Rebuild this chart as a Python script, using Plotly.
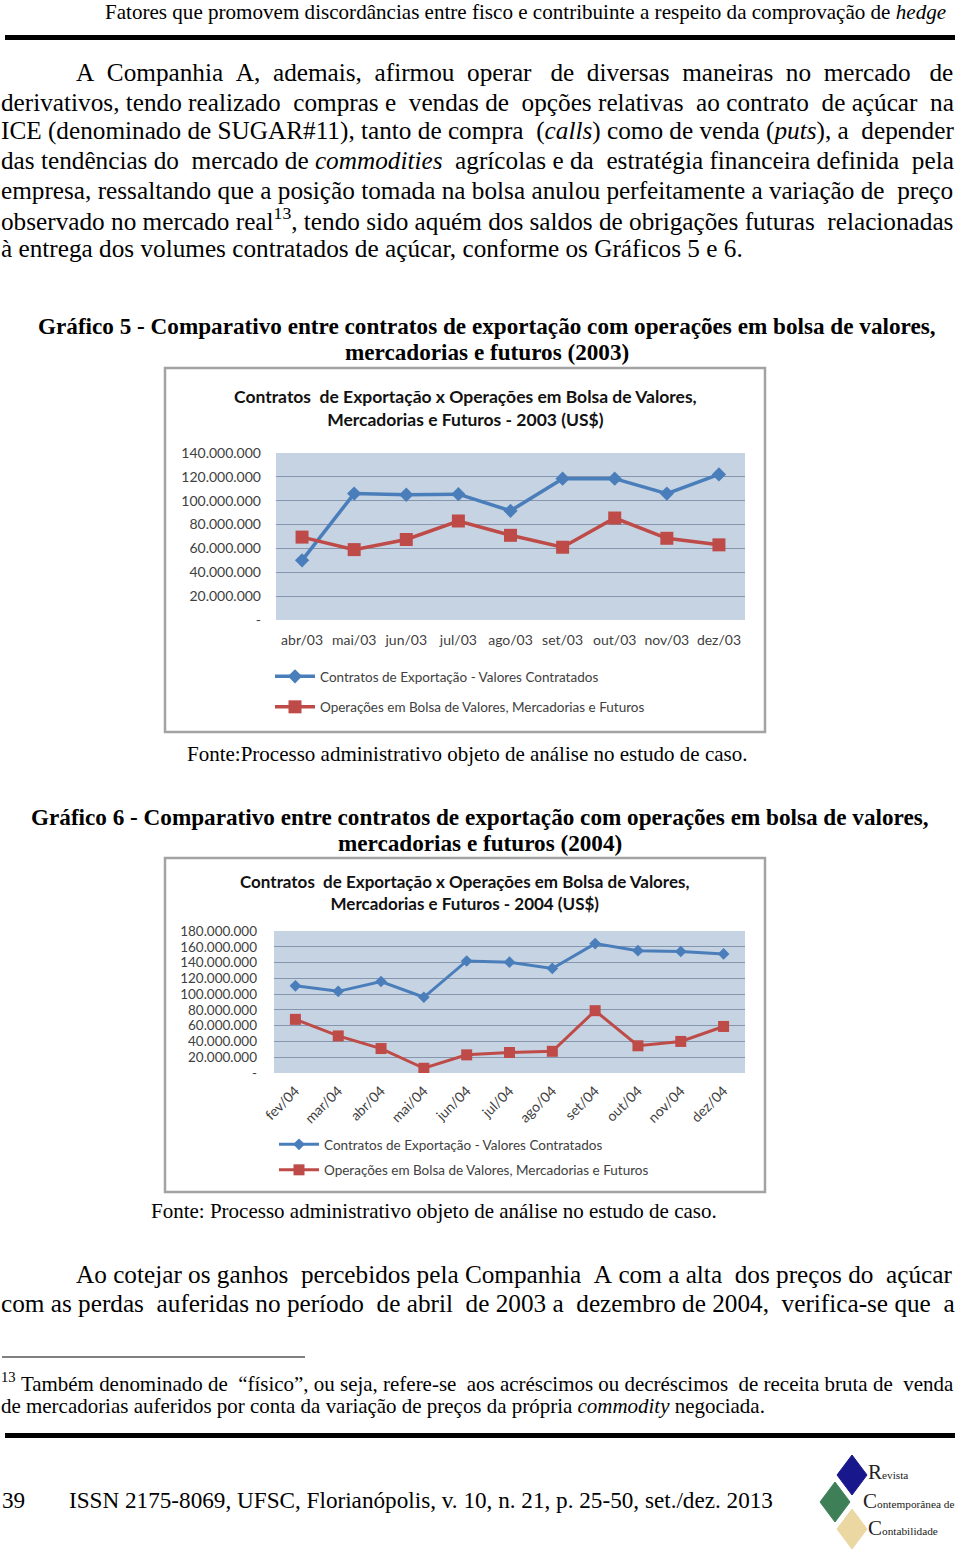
import re
import unicodedata
import plotly.graph_objects as go

# ---------------- data ----------------
cats_2003 = ['abr/03', 'mai/03', 'jun/03', 'jul/03', 'ago/03', 'set/03', 'out/03', 'nov/03', 'dez/03']
export_2003 = [50e6, 106e6, 105e6, 105.5e6, 91.5e6, 118.5e6, 118.5e6, 106e6, 122e6]
bolsa_2003 = [69.5e6, 59e6, 67.5e6, 83e6, 71e6, 61e6, 85.5e6, 68.5e6, 63e6]

cats_2004 = ['fev/04', 'mar/04', 'abr/04', 'mai/04', 'jun/04', 'jul/04', 'ago/04', 'set/04', 'out/04', 'nov/04', 'dez/04']
export_2004 = [110.5e6, 103.5e6, 116e6, 96e6, 142e6, 140.5e6, 132.5e6, 164e6, 155e6, 154e6, 151e6]
bolsa_2004 = [68e6, 47e6, 31e6, 6e6, 23e6, 26e6, 27.5e6, 79e6, 34.5e6, 40e6, 59e6]

ticks_2003 = [0, 20e6, 40e6, 60e6, 80e6, 100e6, 120e6, 140e6]
ticklabels_2003 = ['-', '20.000.000', '40.000.000', '60.000.000', '80.000.000', '100.000.000', '120.000.000', '140.000.000']
ticks_2004 = [0, 20e6, 40e6, 60e6, 80e6, 100e6, 120e6, 140e6, 160e6, 180e6]
ticklabels_2004 = ['-', '20.000.000', '40.000.000', '60.000.000', '80.000.000', '100.000.000', '120.000.000',
                   '140.000.000', '160.000.000', '180.000.000']

name_export = 'Contratos de Exportação - Valores Contratados'
name_bolsa = 'Operações em Bolsa de Valores, Mercadorias e Futuros'

# ---------------- page text ----------------
header = 'Fatores que promovem discordâncias entre fisco e contribuinte a respeito da comprovação de <i>hedge</i>'
para1 = [
    'A Companhia A, ademais, afirmou operar de diversas maneiras no mercado de',
    'derivativos, tendo realizado compras e vendas de opções relativas ao contrato de açúcar na',
    'ICE (denominado de SUGAR#11), tanto de compra (<i>calls</i>) como de venda (<i>puts</i>), a depender',
    'das tendências do mercado de <i>commodities</i> agrícolas e da estratégia financeira definida pela',
    'empresa, ressaltando que a posição tomada na bolsa anulou perfeitamente a variação de preço',
    'observado no mercado real<sup>13</sup>, tendo sido aquém dos saldos de obrigações futuras relacionadas',
    'à entrega dos volumes contratados de açúcar, conforme os Gráficos 5 e 6.',
]
cap5 = ['Gráfico 5 - Comparativo entre contratos de exportação com operações em bolsa de valores,',
        'mercadorias e futuros (2003)']
cap6 = ['Gráfico 6 - Comparativo entre contratos de exportação com operações em bolsa de valores,',
        'mercadorias e futuros (2004)']
fonte5 = 'Fonte:Processo administrativo objeto de análise no estudo de caso.'
fonte6 = 'Fonte: Processo administrativo objeto de análise no estudo de caso.'
para2 = [
    'Ao cotejar os ganhos percebidos pela Companhia A com a alta dos preços do açúcar',
    'com as perdas auferidas no período de abril de 2003 a dezembro de 2004, verifica-se que a',
]
footnote = [
    '<sup>13</sup> Também denominado de “físico”, ou seja, refere-se aos acréscimos ou decréscimos de receita bruta de venda',
    'de mercadorias auferidos por conta da variação de preços da própria <i>commodity</i> negociada.',
]
footer_page = '39'
footer_issn = 'ISSN 2175-8069, UFSC, Florianópolis, v. 10, n. 21, p. 25-50, set./dez. 2013'
title_2003 = 'Contratos  de Exportação x Operações em Bolsa de Valores,<br>Mercadorias e Futuros - 2003 (US$)'
title_2004 = 'Contratos  de Exportação x Operações em Bolsa de Valores,<br>Mercadorias e Futuros - 2004 (US$)'

# ---------------- Times metrics (for font sizing / justification) ----------------
ROMAN = {' ': 250, '!': 333, '"': 408, '#': 500, '$': 500, '%': 833, '&': 778, "'": 333, '(': 333, ')': 333,
         ',': 250, '-': 333, '.': 250, '/': 278, ':': 278, ';': 278, '?': 444, '“': 444, '”': 444,
         'A': 722, 'B': 667, 'C': 667, 'D': 722, 'E': 611, 'F': 556, 'G': 722, 'H': 722, 'I': 333, 'J': 389,
         'K': 722, 'L': 611, 'M': 889, 'N': 722, 'O': 722, 'P': 556, 'Q': 722, 'R': 667, 'S': 556, 'T': 611,
         'U': 722, 'V': 722, 'W': 944, 'X': 722, 'Y': 722, 'Z': 611,
         'a': 444, 'b': 500, 'c': 444, 'd': 500, 'e': 444, 'f': 333, 'g': 500, 'h': 500, 'i': 278, 'j': 278,
         'k': 500, 'l': 278, 'm': 778, 'n': 500, 'o': 500, 'p': 500, 'q': 500, 'r': 333, 's': 389, 't': 278,
         'u': 500, 'v': 500, 'w': 722, 'x': 500, 'y': 500, 'z': 444}
BOLD = dict(ROMAN)
BOLD.update({'a': 500, 'b': 556, 'd': 556, 'h': 556, 'j': 333, 'k': 556, 'm': 833, 'n': 556, 'p': 556,
             'q': 556, 'r': 444, 't': 333, 'u': 556, 'G': 778, 'C': 722})


def em_width(s, table=ROMAN):
    total = 0.0
    for part in re.split(r'(<sup>.*?</sup>)', s):
        scale = 0.7 if part.startswith('<sup>') else 1.0
        part = re.sub(r'<[^>]+>', '', part)
        for ch in part:
            base = unicodedata.normalize('NFD', ch)[0]
            total += table.get(ch, table.get(base, 500)) * scale
    return total / 1000.0


def justify(line, fs, width_px):
    words = line.split(' ')
    gaps = len(words) - 1
    extra = width_px - em_width(line) * fs
    n_extra = max(0, round(extra / (0.25 * fs)))
    out = words[0]
    for i in range(gaps):
        k = (n_extra * (i + 1)) // gaps - (n_extra * i) // gaps
        out += '\u00a0' * (1 + k) + words[i + 1]
    return out


W, H = 960, 1556


def X(px):
    return px / W


def Y(py):
    return 1 - py / H


SERIF = 'Liberation Serif, Times New Roman, serif'
SANS = 'Lato, Open Sans, sans-serif'

fs_body = 743 / em_width(para1[-1])
fs_head = 842 / em_width(header)
fs_cap = 899 / em_width(cap5[0], BOLD)
fs_fonte = 561 / em_width(fonte5)
fs_foot = 768 / em_width(footnote[1])
fs_footer = 706 / em_width(footer_issn)

annotations = []
PAD = 3  # annotation inner padding


def text(t, x, y, size, xanchor='left', bold=False, family=SERIF, color='#000000'):
    if bold:
        t = '<b>' + t + '</b>'
    if xanchor == 'left':
        x -= PAD
    elif xanchor == 'right':
        x += PAD
    annotations.append(dict(text=t, x=X(x), y=Y(y), xref='paper', yref='paper', xanchor=xanchor,
                            yanchor='middle', showarrow=False, font=dict(family=family, size=size, color=color)))


text(header, 945, 12, fs_head, xanchor='right')
p1_y = [73, 102, 131, 160, 190, 219, 248]
for i, (line, yy) in enumerate(zip(para1, p1_y)):
    x0 = 77 if i == 0 else 2
    t = justify(line, fs_body, 956 - x0) if i < len(para1) - 1 else line
    text(t, x0, yy, fs_body)
text(cap5[0], 487, 326, fs_cap, xanchor='center', bold=True)
text(cap5[1], 487, 352, fs_cap, xanchor='center', bold=True)
text(fonte5, 467, 754, fs_fonte, xanchor='center')
text(cap6[0], 480, 817, fs_cap, xanchor='center', bold=True)
text(cap6[1], 480, 843, fs_cap, xanchor='center', bold=True)
text(fonte6, 434, 1211, fs_fonte, xanchor='center')
text(justify(para2[0], fs_body, 956 - 77), 77, 1274, fs_body)
text(justify(para2[1], fs_body, 954), 2, 1303, fs_body)
text(justify(footnote[0], fs_foot, 954), 2, 1382, fs_foot)
text(footnote[1], 2, 1406, fs_foot)
text(footer_page, 3, 1500, fs_footer)
text(footer_issn, 70, 1500, fs_footer)

# chart titles
text(title_2003, 465, 408, 17.5, xanchor='center', bold=True, family=SANS, color='#111111')
text(title_2004, 465, 892, 17, xanchor='center', bold=True, family=SANS, color='#111111')

# logo text
for word, cap_letter, xx, yy in [('evista', 'R', 869, 1472), ('ontemporânea de', 'C', 864, 1501),
                                 ('ontabilidade', 'C', 869, 1528)]:
    annotations.append(dict(text='<span style="font-size:21px">' + cap_letter + '</span>' + word,
                            x=X(xx - PAD), y=Y(yy), xref='paper', yref='paper', xanchor='left', yanchor='middle',
                            showarrow=False, font=dict(family=SERIF, size=11.3, color='#222222')))

# ---------------- shapes ----------------
shapes = []


def rect(x0, y0, x1, y1, fill=None, line_color=None, lw=0):
    shapes.append(dict(type='rect', xref='paper', yref='paper', x0=X(x0), x1=X(x1), y0=Y(y0), y1=Y(y1),
                       fillcolor=fill if fill else 'rgba(0,0,0,0)',
                       line=dict(color=line_color if line_color else 'rgba(0,0,0,0)', width=lw), layer='below'))


rect(5, 35, 955, 40, fill='#000000')
rect(5, 1433, 955, 1438, fill='#000000')
shapes.append(dict(type='line', xref='paper', yref='paper', x0=X(2), x1=X(305), y0=Y(1357), y1=Y(1357),
                   line=dict(color='#000000', width=1)))
rect(165, 368, 765, 732, line_color='#a3a3a3', lw=2.5)
rect(165, 858, 765, 1192, line_color='#a3a3a3', lw=2.5)


def diamond(cx, cy, hw, hh, color):
    path = 'M {} {} L {} {} L {} {} L {} {} Z'.format(X(cx), Y(cy - hh), X(cx + hw), Y(cy), X(cx), Y(cy + hh),
                                                     X(cx - hw), Y(cy))
    shapes.append(dict(type='path', xref='paper', yref='paper', path=path, fillcolor=color,
                       line=dict(color=color, width=1)))


diamond(852, 1475, 15, 20, '#18188c')
diamond(835, 1502, 15, 20, '#3f7f58')
diamond(852, 1529, 15, 20, '#ead7a2')

# ---------------- traces ----------------
BLUE = '#4a7ebb'
RED = '#be4b48'
fig = go.Figure()
fig.add_trace(go.Scatter(x=cats_2003, y=export_2003, name=name_export, mode='lines+markers',
                         line=dict(color=BLUE, width=3.5), marker=dict(symbol='diamond', size=11, color=BLUE),
                         xaxis='x', yaxis='y', legend='legend', legendgroup='a'))
fig.add_trace(go.Scatter(x=cats_2003, y=bolsa_2003, name=name_bolsa, mode='lines+markers',
                         line=dict(color=RED, width=3.5), marker=dict(symbol='square', size=13, color=RED),
                         xaxis='x', yaxis='y', legend='legend', legendgroup='b'))
fig.add_trace(go.Scatter(x=cats_2004, y=export_2004, name=name_export, mode='lines+markers',
                         line=dict(color=BLUE, width=3), marker=dict(symbol='diamond', size=9, color=BLUE),
                         xaxis='x2', yaxis='y2', legend='legend2', legendgroup='c'))
fig.add_trace(go.Scatter(x=cats_2004, y=bolsa_2004, name=name_bolsa, mode='lines+markers',
                         line=dict(color=RED, width=3), marker=dict(symbol='square', size=11, color=RED),
                         xaxis='x2', yaxis='y2', legend='legend2', legendgroup='d'))

GRID = '#8596ae'
BG = '#c6d3e2'
TICKC = '#404040'

fig.update_layout(
    width=W, height=H, autosize=False, margin=dict(l=0, r=0, t=0, b=0, pad=0, autoexpand=False),
    paper_bgcolor='#ffffff', plot_bgcolor=BG, showlegend=True,
    annotations=annotations, shapes=shapes,
    xaxis=dict(domain=[X(276), X(745)], anchor='y', type='category', range=[-0.5, 8.5], showgrid=False,
               showline=False, zeroline=False, ticks='', ticklabelstandoff=10, automargin=False,
               tickfont=dict(family=SANS, size=14, color=TICKC)),
    yaxis=dict(domain=[Y(620), Y(453)], anchor='x', range=[0, 140e6], tickvals=ticks_2003,
               ticktext=ticklabels_2003, showgrid=True, gridcolor=GRID, gridwidth=1, zeroline=False,
               showline=False, ticks='', ticklabelstandoff=14, automargin=False,
               tickfont=dict(family=SANS, size=14, color=TICKC)),
    xaxis2=dict(domain=[X(274), X(745)], anchor='y2', type='category', range=[-0.5, 10.5], showgrid=False,
                showline=False, zeroline=False, ticks='', tickangle=-45, ticklabelstandoff=6, automargin=False,
                tickfont=dict(family=SANS, size=14, color=TICKC)),
    yaxis2=dict(domain=[Y(1073), Y(931)], anchor='x2', range=[0, 180e6], tickvals=ticks_2004,
                ticktext=ticklabels_2004, showgrid=True, gridcolor=GRID, gridwidth=1, zeroline=False,
                showline=False, ticks='', ticklabelstandoff=16, automargin=False,
                tickfont=dict(family=SANS, size=13.5, color=TICKC)),
    legend=dict(x=X(270), y=Y(661), xanchor='left', yanchor='top', bgcolor='rgba(0,0,0,0)',
                font=dict(family=SANS, size=13.5, color=TICKC), tracegroupgap=10, itemwidth=40,
                traceorder='grouped'),
    legend2=dict(x=X(274), y=Y(1129), xanchor='left', yanchor='top', bgcolor='rgba(0,0,0,0)',
                 font=dict(family=SANS, size=13.5, color=TICKC), tracegroupgap=5, itemwidth=40,
                 traceorder='grouped'),
)

fig.write_html('out.html', post_script="document.body.style.margin='0';")
